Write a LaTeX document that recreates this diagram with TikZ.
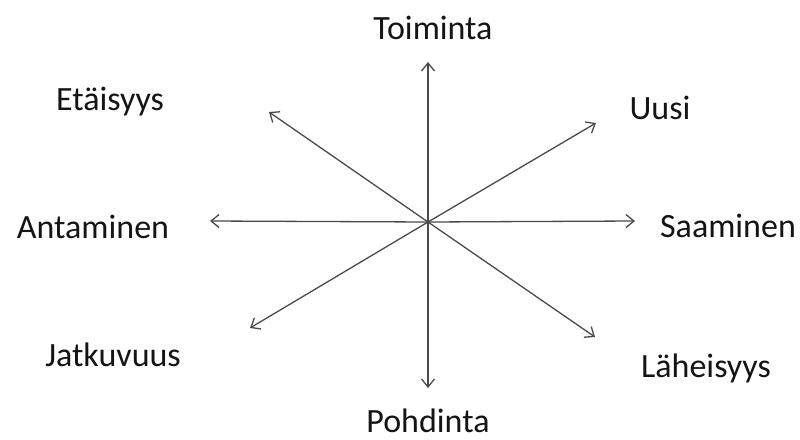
\documentclass[tikz,border=0pt]{standalone}
\usepackage{fontspec}
\setmainfont{Carlito}
\usetikzlibrary{arrows.meta}
\definecolor{txt}{HTML}{141414}
\definecolor{ln}{HTML}{4A4A4A}
\begin{document}
\begin{tikzpicture}[x=1pt,y=-1pt,
  lbl/.style={anchor=base,inner sep=0pt,text=txt,font=\fontsize{34}{40}\selectfont},
  arr/.style={draw=ln,line width=1.3pt,-{Straight Barb[length=8pt,width=13pt,line width=1.3pt]}}]
\useasboundingbox (0,0) rectangle (800,439);
\coordinate (c) at (428,222);
\coordinate (tN) at (428,62);
\coordinate (tS) at (428,388);
\coordinate (tW) at (210,221);
\coordinate (tE) at (635,221);
\coordinate (tNW) at (269,112);
\coordinate (tNE) at (596,123);
\coordinate (tSW) at (250,328);
\coordinate (tSE) at (595,337);
\node[lbl] (toiminta) at (433,39) {Toiminta};
\node[lbl] (pohdinta) at (428,432) {Pohdinta};
\node[lbl] (etaisyys) at (110,110) {Etäisyys};
\node[lbl] (uusi) at (660,119) {Uusi};
\node[lbl] (antaminen) at (93,238) {Antaminen};
\node[lbl] (saaminen) at (728,237) {Saaminen};
\node[lbl] (jatkuvuus) at (113,366) {Jatkuvuus};
\node[lbl] (laheisyys) at (706,377) {Läheisyys};
\draw[arr] (c) -- (tN);
\draw[arr] (c) -- (tS);
\draw[arr] (c) -- (tW);
\draw[arr] (c) -- (tE);
\draw[arr] (c) -- (tNW);
\draw[arr] (c) -- (tNE);
\draw[arr] (c) -- (tSW);
\draw[arr] (c) -- (tSE);
\end{tikzpicture}
\end{document}
